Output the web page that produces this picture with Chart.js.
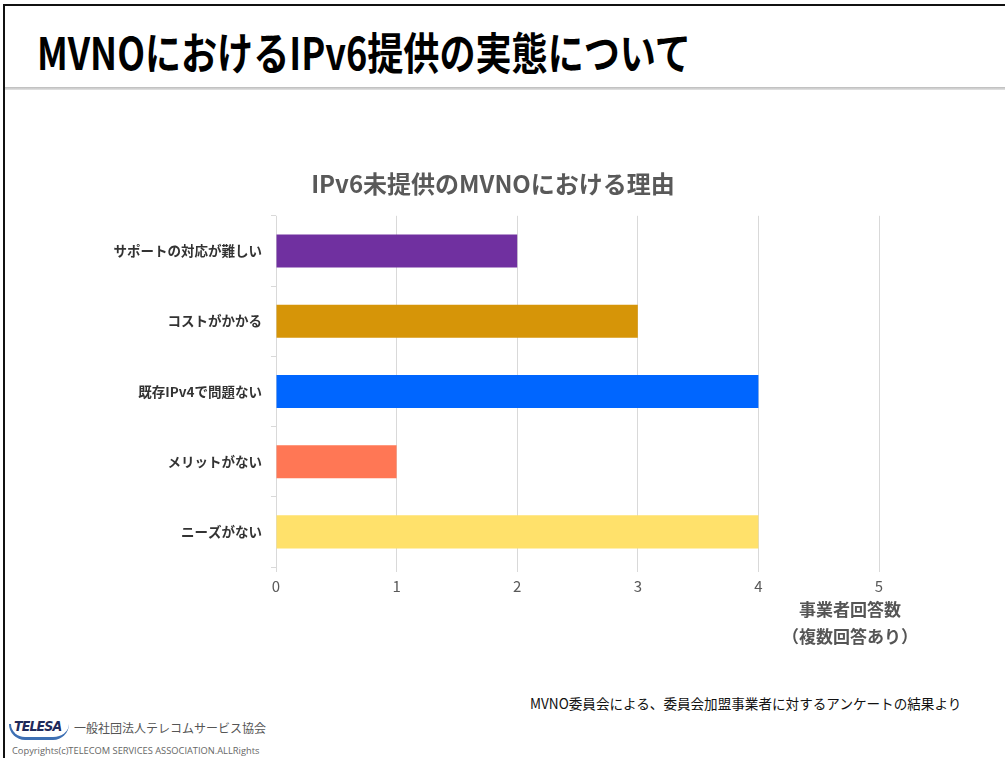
<!DOCTYPE html>
<html lang="ja">
<head>
<meta charset="utf-8">
<script src="https://cdn.jsdelivr.net/npm/chart.js@4/dist/chart.umd.min.js"></script>
<style>
  html,body{margin:0;padding:0;background:#fff;}
  body{width:1005px;height:758px;position:relative;overflow:hidden;font-family:"Noto Sans CJK JP","Noto Sans",sans-serif;}
  .frame-top{position:absolute;left:3px;top:4px;right:0;height:2px;background:#111;}
  .frame-left{position:absolute;left:3px;top:4px;bottom:0;width:2px;background:#111;}
  .title-rule{position:absolute;left:5px;right:0;top:87px;height:3px;background:linear-gradient(#bbb,#e4e4e4);}
  .page-title{position:absolute;left:37px;top:22px;font-size:44px;font-weight:bold;color:#000;white-space:nowrap;transform:scaleX(0.82);transform-origin:left top;line-height:58px;}
  #wrap{position:absolute;left:107px;top:150px;width:898px;height:497px;}
  .axis-note{position:absolute;left:770px;width:160px;text-align:center;font-size:17px;font-weight:bold;color:#555;white-space:nowrap;}
  .source{position:absolute;left:530px;top:693px;font-size:14px;color:#111;white-space:nowrap;transform:scaleX(0.97);transform-origin:left top;}
  .logo{position:absolute;left:14px;top:718px;font-size:14px;font-weight:900;font-style:italic;color:#1f2a5a;letter-spacing:-1px;font-family:"DejaVu Sans",sans-serif;transform:scaleX(0.9);transform-origin:left top;}
  .logo-sw{position:absolute;left:9px;top:724px;width:58px;height:13px;border-bottom:3px solid #3d6fb3;border-left:2px solid #3d6fb3;border-radius:0 0 30px 30px;}
  .org{position:absolute;left:74px;top:719px;font-size:12px;color:#555;white-space:nowrap;}
  .copy{position:absolute;left:12px;top:744px;font-size:9.3px;color:#666;white-space:nowrap;font-family:"Open Sans",sans-serif;}
</style>
</head>
<body>
<div class="frame-top"></div>
<div class="frame-left"></div>
<div class="page-title">MVNOにおけるIPv6提供の実態について</div>
<div class="title-rule"></div>

<div id="wrap"><canvas id="reasonChart"></canvas></div>

<div class="axis-note" style="top:596px;">事業者回答数</div>
<div class="axis-note" style="top:623px;">（複数回答あり）</div>

<div class="source">MVNO委員会による、委員会加盟事業者に対するアンケートの結果より</div>
<div class="logo-sw"></div>
<div class="logo">TELESA</div>
<div class="org">一般社団法人テレコムサービス協会</div>
<div class="copy">Copyrights(c)TELECOM SERVICES ASSOCIATION.ALLRights</div>

<script>
// reasons given by MVNOs that do not offer IPv6
const chartTitle = 'IPv6未提供のMVNOにおける理由';
const reasons = ['サポートの対応が難しい', 'コストがかかる', '既存IPv4で問題ない', 'メリットがない', 'ニーズがない'];
const answers = [2, 3, 4, 1, 4];
const barColors = ['#7030a0', '#d69508', '#0066ff', '#ff7755', '#ffe16b'];
const xTicks = [0, 1, 2, 3, 4, 5];

const ctx = document.getElementById('reasonChart').getContext('2d');
new Chart(ctx, {
  type: 'bar',
  data: {
    labels: reasons,
    datasets: [{
      data: answers,
      backgroundColor: barColors,
      borderWidth: 0,
      categoryPercentage: 1,
      barPercentage: 0.47
    }]
  },
  options: {
    indexAxis: 'y',
    responsive: true,
    maintainAspectRatio: false,
    animation: false,
    layout: { padding: { left: 0, right: 126, top: 0, bottom: 0 } },
    plugins: {
      legend: { display: false },
      tooltip: { enabled: false },
      title: {
        display: true,
        text: chartTitle,
        color: '#595959',
        font: { family: '"Noto Sans CJK JP"', size: 24, weight: 'bold', lineHeight: 1.2 },
        padding: { top: 19, bottom: 18 }
      }
    },
    scales: {
      x: {
        min: xTicks[0],
        max: xTicks[xTicks.length - 1],
        afterBuildTicks: s => { s.ticks = xTicks.map(v => ({ value: v })); },
        afterFit: s => { s.height = 80; },
        grid: { color: '#d9d9d9', tickLength: 5, lineWidth: 1 },
        border: { display: false },
        ticks: {
          color: '#595959',
          padding: 5,
          font: { family: '"Noto Sans CJK JP"', size: 15 }
        }
      },
      y: {
        afterFit: s => { s.width = 169; },
        grid: { drawOnChartArea: false, color: '#d9d9d9', tickLength: 5 },
        border: { display: false },
        ticks: {
          color: '#333',
          padding: 9,
          font: { family: '"Noto Sans CJK JP"', size: 13.5, weight: 'bold' }
        }
      }
    }
  }
});
</script>
</body>
</html>
